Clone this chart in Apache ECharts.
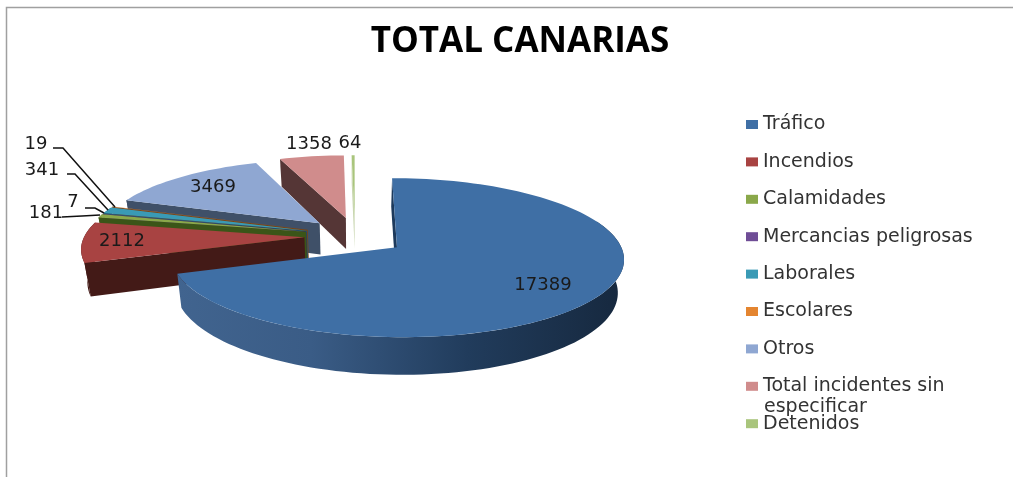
<!DOCTYPE html>
<html>
<head>
<meta charset="utf-8">
<style>
  html, body { margin: 0; padding: 0; background: #fff; }
  #chart { width: 1013px; height: 477px; }
</style>
<script src="https://cdn.jsdelivr.net/npm/echarts@6/dist/echarts.min.js"></script>
</head>
<body>
<div id="chart"></div>
<script>
const categories = ['Tráfico', 'Incendios', 'Calamidades', 'Mercancias peligrosas', 'Laborales', 'Escolares', 'Otros', 'Total incidentes sin especificar', 'Detenidos']
const values = [17389, 2112, 181, 7, 341, 19, 3469, 1358, 64]
const topColors = ['#3f6fa5', '#a84342', '#8aa84a', '#6f4d96', '#3a9ab5', '#e48530', '#8fa7d2', '#d08c8c', '#a9c57c']
const faceColors = ['#1d3a5c', '#431a17', '#3b5518', '#3a2555', '#21586a', '#7a4415', '#3f5068', '#553636', '#c9d6b0']

// draw order, far slices first
const drawOrder = [8, 7, 6, 5, 4, 3, 2, 1, 0]

// where the value labels sit on the page
const labelAt = [[543, 285], [122, 241], [46, 213], [73, 202], [42, 170], [36, 144], [213, 187], [309, 144], [350, 143]]
const leaderLines = {
  5: [[53, 148], [63, 148], [115, 207]],
  4: [[67, 174], [75, 174], [108, 210]],
  3: [[85, 208], [95, 208], [104, 213]],
  2: [[62, 217], [82, 216], [100, 215]]
}

// projection of the tilted disc
const cx = 355, cy = 236
const scaleX = 220, scaleY = 75.2, persp = 0.13
const explodeX = 0.23, explodeY = 0.25
const depth = 32

const total = values.reduce((a, b) => a + b, 0)
const rad = d => d * Math.PI / 180

const startAngles = []
let cum = 0
values.forEach(v => {
  startAngles.push(cum / total * 360)
  cum += v
})

function project (i, r, deg, low) {
  const mid = startAngles[i] + values[i] / total * 180
  const U = explodeX * Math.sin(rad(mid)) + r * Math.sin(rad(deg))
  const V = explodeY * Math.cos(rad(mid)) + r * Math.cos(rad(deg))
  const k = 1 + persp * V
  let x = cx + scaleX * U / k
  let y = cy - scaleY * V / k
  if (low) {
    x = cx + (x - cx) * 0.977
    y += depth / k
  }
  return [x, y]
}

function arc (i, from, to, low) {
  const pts = []
  const n = Math.max(2, Math.ceil((to - from) / 2))
  for (let s = 0; s <= n; s++) {
    pts.push(project(i, 1, from + (to - from) * s / n, low))
  }
  return pts
}

function renderSlice (i) {
  const from = startAngles[i]
  const to = from + values[i] / total * 360
  const children = []

  // cut face on the start side, seen when it turns to the front
  if (from > 180 || from === 0) {
    children.push({
      type: 'polygon',
      shape: { points: [project(i, 0, 0), project(i, 1, from), project(i, 1, from, true), project(i, 0, 0, true)] },
      style: { fill: faceColors[i] }
    })
  }

  // outer rim
  const a = Math.max(from, 70), b = Math.min(to, 290)
  if (b > a) {
    const rimFill = i === 0
      ? new echarts.graphic.LinearGradient(0, 0, 1, 0, [
        { offset: 0, color: '#41648f' },
        { offset: 0.3, color: '#3a5c86' },
        { offset: 0.65, color: '#213c5c' },
        { offset: 1, color: '#16283e' }
      ])
      : faceColors[i]
    children.push({
      type: 'polygon',
      shape: { points: arc(i, a, b, false).concat(arc(i, a, b, true).reverse()) },
      style: { fill: rimFill }
    })
  }

  // top surface
  children.push({
    type: 'polygon',
    shape: { points: [project(i, 0, 0)].concat(arc(i, from, to, false)) },
    style: { fill: topColors[i] }
  })

  if (leaderLines[i]) {
    children.push({
      type: 'polyline',
      shape: { points: leaderLines[i] },
      style: { stroke: '#111', lineWidth: 1.5, fill: 'none' }
    })
  }

  children.push({
    type: 'text',
    style: {
      x: labelAt[i][0],
      y: labelAt[i][1],
      text: String(values[i]),
      fill: '#1a1a1a',
      font: '18px "DejaVu Sans"',
      align: 'center',
      verticalAlign: 'middle'
    }
  })
  return { type: 'group', children: children }
}

const series = categories.map((name, i) => ({
  name: name,
  type: 'custom',
  coordinateSystem: 'none',
  z: 2 + drawOrder.indexOf(i),
  silent: true,
  animation: false,
  itemStyle: { color: topColors[i] },
  data: [[values[i]]],
  renderItem: () => renderSlice(i)
}))

const chart = echarts.init(document.getElementById('chart'))
chart.setOption({
  backgroundColor: '#fff',
  animation: false,
  title: {
    text: 'TOTAL CANARIAS',
    left: 515,
    top: 20,
    textAlign: 'center',
    textStyle: { fontFamily: '"Open Sans"', fontWeight: 'bold', fontSize: 35, color: '#000' }
  },
  legend: {
    orient: 'vertical',
    left: 741,
    top: 110,
    icon: 'rect',
    itemWidth: 12,
    itemHeight: 9,
    itemGap: 18.4,
    data: categories,
    formatter: n => n === categories[7] ? 'Total incidentes sin' : n,
    textStyle: { fontFamily: '"DejaVu Sans"', fontSize: 19, color: '#333' }
  },
  graphic: [
    {
      type: 'polyline',
      shape: { points: [[6.5, 477], [6.5, 7.5], [1013, 7.5]] },
      style: { stroke: '#a0a0a0', lineWidth: 1.5, fill: 'none' }
    },
    {
      type: 'text',
      left: 764,
      top: 398,
      style: { text: 'especificar', fill: '#333', font: '19px "DejaVu Sans"' }
    }
  ],
  series: series
})
</script>
</body>
</html>
